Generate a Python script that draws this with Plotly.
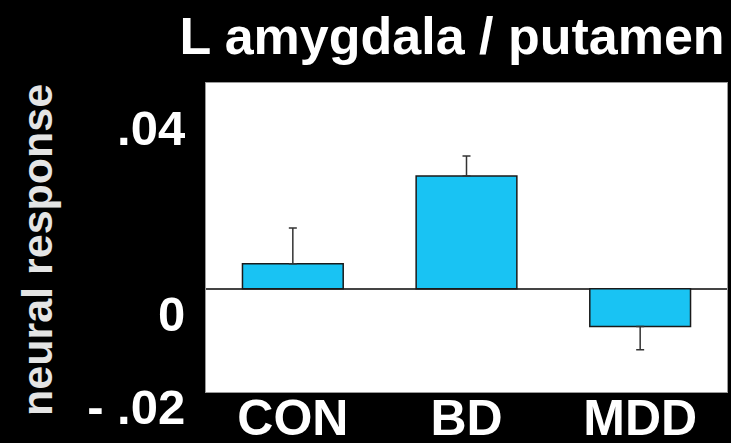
import plotly.graph_objects as go

# Group means and standard errors
groups = ["CON", "BD", "MDD"]
means = [0.0054, 0.0243, -0.0081]
sem = [0.0077, 0.0043, 0.0050]

# y-axis ticks
tick_values = [0.04, 0.0, -0.02]
tick_labels = [".04", "0", "- .02"]

BAR_COLOR = "#19c3f3"
FONT = "Liberation Sans, Arial, Helvetica, sans-serif"

# Error bars point away from zero only
err_up = [e if m >= 0 else 0 for m, e in zip(means, sem)]
err_down = [e if m < 0 else 0 for m, e in zip(means, sem)]

fig = go.Figure(
    go.Bar(
        x=groups,
        y=means,
        width=0.58,
        marker=dict(color=BAR_COLOR, line=dict(color="#1a1a1a", width=1.5)),
        error_y=dict(
            type="data",
            symmetric=False,
            array=err_up,
            arrayminus=err_down,
            color="#333333",
            thickness=1.5,
            width=4,
        ),
    )
)

fig.update_layout(
    width=731,
    height=443,
    margin=dict(l=206, r=4, t=83, b=51),
    paper_bgcolor="black",
    plot_bgcolor="white",
    showlegend=False,
    title=dict(
        text="L amygdala / putamen",
        x=452 / 731,
        xanchor="center",
        xref="container",
        y=1 - 36 / 443,
        yanchor="middle",
        yref="container",
        font=dict(family=FONT, size=52, color="white", weight="bold"),
    ),
)

fig.update_xaxes(
    range=[-0.5, 2.5],
    automargin=False,
    showgrid=False,
    showline=True,
    linecolor="#9a9a9a",
    linewidth=1,
    mirror=True,
    ticks="",
    tickfont=dict(family=FONT, size=50, color="white", weight="bold"),
    ticklabelstandoff=-18,
)

fig.update_yaxes(
    range=[-0.0222, 0.0443],
    automargin=False,
    showgrid=False,
    zeroline=True,
    zerolinecolor="#444444",
    zerolinewidth=1.5,
    showline=True,
    linecolor="#9a9a9a",
    linewidth=1,
    mirror=True,
    ticks="",
    tickvals=tick_values,
    ticktext=tick_labels,
    tickfont=dict(family=FONT, size=49, color="white", weight="bold"),
    ticklabelshift=25,
    ticklabelstandoff=10,
)

fig.add_annotation(
    text="neural response",
    textangle=-90,
    xref="paper",
    yref="paper",
    x=(37 - 206) / 521,
    y=(392 - 250) / 309,
    xanchor="center",
    yanchor="middle",
    showarrow=False,
    font=dict(family=FONT, size=43, color="#e4e4e4", weight="bold"),
)

fig.write_html("out.html")
